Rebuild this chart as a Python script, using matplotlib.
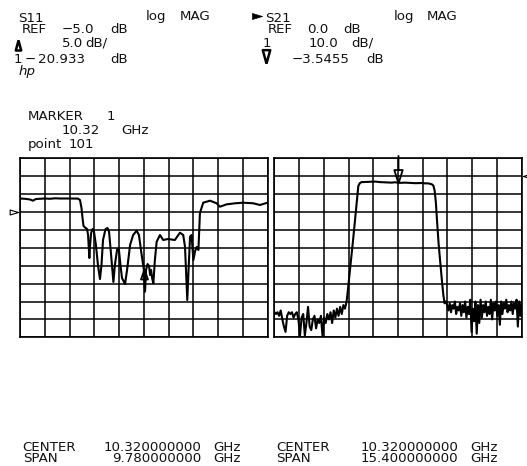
import numpy as np
import matplotlib
matplotlib.use("Agg")
import matplotlib.pyplot as plt
from matplotlib.lines import Line2D
from matplotlib.transforms import blended_transform_factory

W, H = 527, 466

# ---------------- data ----------------
s11_center, s11_span = 10.32, 9.78
s21_center, s21_span = 10.32, 15.40
s11_ref, s11_scale, s11_ref_div = -5.0, 5.0, 7
s21_ref, s21_scale, s21_ref_div = 0.0, 10.0, 9
marker_freq = 10.32
s11_marker_val = -20.933
s21_marker_val = -3.5455

s11_freq = [5.43, 5.63, 5.83, 5.94, 6.06, 6.42, 6.62, 6.81, 7.01, 7.41,
            7.72, 7.80, 7.86, 7.90, 7.94, 8.00, 8.08, 8.12, 8.17, 8.20,
            8.24, 8.30, 8.35, 8.43, 8.51, 8.59, 8.65, 8.71, 8.81, 8.89,
            8.95, 9.03, 9.12, 9.18, 9.27, 9.34, 9.40, 9.46, 9.58, 9.66,
            9.78, 9.90, 10.04, 10.13, 10.21, 10.32, 10.37, 10.41, 10.47, 10.53,
            10.57, 10.61, 10.65, 10.70, 10.76, 10.83, 10.96, 11.09, 11.28, 11.55,
            11.75, 11.88, 11.95, 12.04, 12.09, 12.15, 12.21, 12.28, 12.35, 12.41,
            12.48, 12.54, 12.67, 12.94, 13.20, 13.33, 13.60, 13.93, 14.25, 14.65,
            14.91, 15.21]
s11_db = [-1.23, -1.31, -1.51, -1.84, -1.37, -1.23, -1.31, -1.17, -1.23, -1.23,
          -1.26, -1.65, -3.88, -6.68, -8.91, -9.33, -9.75, -11.43, -17.85, -14.22,
          -10.87, -9.75, -10.31, -14.22, -19.81, -23.72, -19.81, -12.83, -9.75, -9.47,
          -10.59, -17.01, -24.55, -19.81, -15.34, -15.62, -19.81, -23.44, -25.12, -21.21,
          -14.22, -11.43, -10.22, -11.43, -15.62, -20.93, -27.26, -21.2, -19.53, -20.08,
          -22.6, -21.2, -23.44, -24.92, -18.41, -13.30, -11.43, -12.82, -12.54, -12.82,
          -10.78, -11.43, -14.69, -29.58, -21.2, -11.90, -11.43, -18.41, -15.89, -14.78,
          -15.62, -5.28, -2.40, -1.84, -2.57, -3.52, -2.85, -2.57, -2.40, -2.57,
          -3.04, -2.40]

s21_lo_freq = [2.62, 2.72, 2.82, 2.92, 3.02, 3.12, 3.22, 3.32, 3.42, 3.52,
               3.62, 3.72, 3.82, 3.92, 4.02, 4.12, 4.22, 4.32, 4.42, 4.52,
               4.62, 4.72, 4.82, 4.92, 5.02, 5.12, 5.22, 5.32, 5.42, 5.52,
               5.62, 5.72, 5.82, 5.92, 6.02, 6.12, 6.22, 6.32, 6.42, 6.52,
               6.62, 6.72, 6.82, 6.92, 7.02, 7.12]
s21_lo_db = [-76, -77, -76, -78, -75, -80, -84, -87, -78, -76,
             -77, -76, -79, -77, -76, -80, -89, -79, -77, -89,
             -82, -73, -84, -86, -80, -78, -85, -80, -82, -78,
             -89, -79, -82, -77, -80, -76, -82, -75, -79, -74,
             -78, -73, -77, -72, -74, -70]
s21_pass_freq = [7.19, 7.52, 7.85, 7.95, 8.06, 8.30, 8.60, 8.91, 9.20, 9.50,
                 9.93, 10.10, 10.32, 10.50, 10.76, 11.00, 11.40, 11.80, 12.00, 12.20,
                 12.42, 12.52, 12.60, 12.68, 12.75, 12.85, 12.95, 13.05, 13.15, 13.22,
                 13.30]
s21_pass_db = [-64.5, -36.0, -5.5, -3.8, -3.3, -3.2, -3.1, -3.0, -3.3, -3.4,
               -3.6, -3.4, -3.55, -3.7, -3.6, -3.7, -3.9, -3.8, -4.0, -4.0,
               -4.5, -5.2, -8.0, -15.0, -25.0, -38.0, -48.0, -58.0, -67.0, -71.0,
               -70.0]
s21_hi_freq = [13.38, 13.46, 13.54, 13.62, 13.70, 13.78, 13.86, 13.94, 14.02, 14.10,
               14.18, 14.26, 14.34, 14.42, 14.50, 14.58, 14.66, 14.74, 14.82, 14.90,
               14.98, 15.06, 15.14, 15.22, 15.30, 15.38, 15.46, 15.54, 15.62, 15.70,
               15.78, 15.86, 15.94, 16.02, 16.10, 16.18, 16.26, 16.34, 16.42, 16.50,
               16.58, 16.66, 16.74, 16.82, 16.90, 16.98, 17.06, 17.14, 17.22, 17.30,
               17.38, 17.46, 17.54, 17.62, 17.70, 17.78, 17.86, 17.94, 18.02]
s21_hi_db = [-72, -75, -71, -76, -72, -74, -70, -77, -73, -75,
             -71, -78, -72, -76, -70, -79, -73, -77, -69, -87,
             -74, -81, -70, -88, -72, -82, -69, -79, -72, -76,
             -70, -78, -73, -77, -69, -80, -71, -75, -70, -78,
             -72, -83, -70, -77, -71, -74, -69, -76, -72, -75,
             -70, -77, -71, -74, -69, -84, -70, -78, -71]

s21_freq = s21_lo_freq + s21_pass_freq + s21_hi_freq
s21_db = s21_lo_db + s21_pass_db + s21_hi_db

# ---------------- figure ----------------
fig = plt.figure(figsize=(W / 100, H / 100), dpi=100)
fig.patch.set_facecolor("white")


def fx(x):
    return x / W


def fy(y):
    return 1 - y / H


def setup(ax, center, span, ref, scale, refdiv):
    lo, hi = center - span / 2, center + span / 2
    ylo, yhi = ref - refdiv * scale, ref + (10 - refdiv) * scale
    ax.set_xlim(lo, hi)
    ax.set_ylim(ylo, yhi)
    ax.set_xticks(np.linspace(lo, hi, 11))
    ax.set_yticks(np.linspace(ylo, yhi, 11))
    ax.tick_params(length=0, labelbottom=False, labelleft=False)
    ax.grid(True, color="k", lw=1.1)
    ax.set_axisbelow(True)
    for s in ax.spines.values():
        s.set_linewidth(1.2)
        s.set_color("k")


ax1 = fig.add_axes([fx(20), fy(337.3), 247.5 / W, 179 / H])
ax2 = fig.add_axes([fx(274.3), fy(337.3), 247.4 / W, 179 / H])
setup(ax1, s11_center, s11_span, s11_ref, s11_scale, s11_ref_div)
setup(ax2, s21_center, s21_span, s21_ref, s21_scale, s21_ref_div)

ax1.plot(s11_freq, s11_db, color="k", lw=1.5, solid_joinstyle="round")
ax2.plot(s21_freq, s21_db, color="k", lw=1.5, solid_joinstyle="round")

# markers
ax1.plot([marker_freq], [s11_marker_val], ls="none",
         marker=[(0, 0), (-0.35, -1), (0.35, -1), (0, 0)], ms=14.4,
         mfc="none", mec="k", mew=1.3, clip_on=False)
ax2.plot([marker_freq], [s21_marker_val], ls="none",
         marker=[(0, 2.1), (0, 1), (-0.31, 1), (0, 0), (0.31, 1), (0, 1)],
         ms=40.7, mfc="none", mec="k", mew=1.3, clip_on=False)

# reference position pointers
t1 = blended_transform_factory(ax1.transAxes, ax1.transData)
ax1.plot([-0.0069], [s11_ref], transform=t1, ls="none",
         marker=[(0, 0), (-1, 0.3), (-1, -0.3), (0, 0)], ms=12,
         mfc="none", mec="k", mew=0.8, clip_on=False)
t2 = blended_transform_factory(ax2.transAxes, ax2.transData)
ax2.plot([1.0065], [s21_ref], transform=t2, ls="none",
         marker=[(0, 0), (1, 0.3), (1, -0.3), (0, 0)], ms=12,
         mfc="none", mec="k", mew=0.8, clip_on=False)

# ---------------- text ----------------
FS = 9.6


def txt(x, y, s, ha="left", **kw):
    fig.text(fx(x), fy(y), s, ha=ha, va="baseline", fontsize=kw.pop("fs", FS),
             family="DejaVu Sans", color="#111111", **kw)


# left header
txt(18.3, 21.7, "S11")
txt(145.7, 20, "log")
txt(180, 20, "MAG")
txt(21.7, 33.3, "REF")
txt(61.7, 33.3, "\u22125.0")
txt(110, 33.3, "dB")
txt(61.7, 46.7, "5.0")
txt(85, 46.7, "dB/")
txt(14.0, 63.3, "1")
txt(25, 63.3, "\u2212")
txt(38, 63.3, "20.933")
txt(110, 63.3, "dB")
txt(19, 75, "hp", style="italic")
txt(27.7, 120.5, "MARKER")
txt(106.7, 120.5, "1")
txt(61.7, 134.5, "10.32")
txt(121.7, 134.5, "GHz")
txt(27.7, 148, "point")
txt(68.3, 148, "101")

# right header
txt(265, 21.7, "S21")
txt(393.3, 20, "log")
txt(426.7, 20, "MAG")
txt(267.3, 33.3, "REF")
txt(306.7, 33.3, "0.0")
txt(343.3, 33.3, "dB")
txt(263, 46.7, "1")
txt(308.3, 46.7, "10.0")
txt(351.7, 46.7, "dB/")
txt(291.7, 63.3, "\u22123.5455")
txt(366, 63.3, "dB")

# header symbols
fig.add_artist(Line2D([fx(18.3)], [fy(40)], transform=fig.transFigure, ls="none",
                      marker=[(0, 0), (-0.27, -1), (0.27, -1), (0, 0)], ms=14.4,
                      mfc="none", mec="k", mew=1.8))
fig.add_artist(Line2D([fx(266.3)], [fy(63.3)], transform=fig.transFigure, ls="none",
                      marker=[(0, 0), (-0.28, 1), (0.28, 1), (0, 0)], ms=19.2,
                      mfc="none", mec="k", mew=1.8))
fig.add_artist(Line2D([fx(262)], [fy(15.5)], transform=fig.transFigure, ls="none",
                      marker=[(0, 0), (-1, 0.3), (-1, -0.3), (0, 0)], ms=14.4,
                      mfc="k", mec="k", mew=0.5))

# bottom
txt(22.7, 450.7, "CENTER")
txt(201.7, 450.7, "10.320000000", ha="right")
txt(213, 450.7, "GHz")
txt(22.7, 462.5, "SPAN")
txt(201.7, 462.5, "9.780000000", ha="right")
txt(213, 462.5, "GHz")
txt(276, 450.7, "CENTER")
txt(458, 450.7, "10.320000000", ha="right")
txt(470, 450.7, "GHz")
txt(276, 462.5, "SPAN")
txt(458, 462.5, "15.400000000", ha="right")
txt(470, 462.5, "GHz")

fig.savefig("out.png", dpi=100, facecolor="white")
